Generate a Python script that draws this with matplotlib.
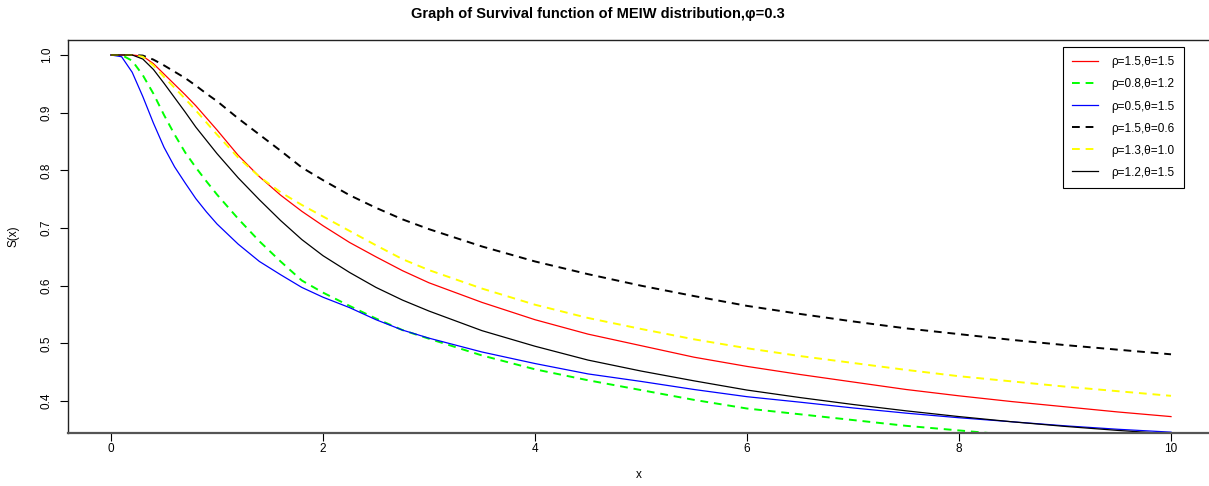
import matplotlib
matplotlib.use("Agg")
import matplotlib.pyplot as plt

plt.rcParams['font.family'] = ['Liberation Sans', 'DejaVu Sans']

x = [0, 0.1, 0.2, 0.3, 0.4, 0.5, 0.6, 0.7, 0.8, 0.9, 1.0, 1.2, 1.4, 1.6, 1.8,
     2.0, 2.25, 2.5, 2.75, 3.0, 3.5, 4.0, 4.5, 5.0, 5.5, 6.0, 6.5, 7.0, 7.5,
     8.0, 8.5, 9.0, 9.5, 10.0]

s_red = [1.0, 1.0, 1.0, 0.998, 0.985, 0.967, 0.949, 0.931, 0.912, 0.891, 0.870,
         0.826, 0.789, 0.757, 0.729, 0.704, 0.675, 0.650, 0.626, 0.605, 0.571,
         0.541, 0.516, 0.496, 0.476, 0.460, 0.446, 0.433, 0.420, 0.409, 0.399,
         0.390, 0.381, 0.373]
s_green = [1.0, 1.0, 0.99, 0.965, 0.933, 0.896, 0.862, 0.831, 0.805, 0.781, 0.758,
           0.716, 0.677, 0.642, 0.609, 0.588, 0.565, 0.543, 0.523, 0.508, 0.479,
           0.455, 0.436, 0.419, 0.402, 0.387, 0.377, 0.367, 0.357, 0.349, 0.341,
           0.334, 0.328, 0.322]
s_blue = [1.0, 0.997, 0.970, 0.928, 0.882, 0.840, 0.806, 0.778, 0.751, 0.728, 0.707,
          0.672, 0.642, 0.619, 0.597, 0.580, 0.562, 0.541, 0.523, 0.509, 0.485,
          0.465, 0.447, 0.434, 0.420, 0.4075, 0.398, 0.388, 0.379, 0.371, 0.364,
          0.357, 0.351, 0.346]
s_bdash = [1.0, 1.0, 1.0, 0.999, 0.992, 0.982, 0.971, 0.960, 0.947, 0.933, 0.920,
           0.890, 0.862, 0.834, 0.805, 0.783, 0.757, 0.735, 0.715, 0.698, 0.668,
           0.642, 0.620, 0.600, 0.582, 0.565, 0.551, 0.538, 0.526, 0.516, 0.506,
           0.497, 0.489, 0.481]
s_yellow = [1.0, 1.0, 1.0, 0.997, 0.982, 0.962, 0.943, 0.924, 0.904, 0.883, 0.862,
            0.822, 0.789, 0.762, 0.740, 0.720, 0.695, 0.670, 0.646, 0.627, 0.595,
            0.567, 0.544, 0.525, 0.507, 0.4915, 0.478, 0.466, 0.454, 0.443, 0.434,
            0.425, 0.417, 0.409]
s_bsolid = [1.0, 1.0, 1.0, 0.993, 0.975, 0.951, 0.926, 0.901, 0.875, 0.852, 0.829,
            0.787, 0.749, 0.713, 0.680, 0.652, 0.623, 0.597, 0.575, 0.556, 0.522,
            0.495, 0.471, 0.452, 0.435, 0.419, 0.406, 0.394, 0.383, 0.373, 0.364,
            0.356, 0.349, 0.343]

labels = ["\u03c1=1.5,\u03b8=1.5", "\u03c1=0.8,\u03b8=1.2", "\u03c1=0.5,\u03b8=1.5",
          "\u03c1=1.5,\u03b8=0.6", "\u03c1=1.3,\u03b8=1.0", "\u03c1=1.2,\u03b8=1.5"]

W, H = 1209, 486
fig = plt.figure(figsize=(W / 100, H / 100), dpi=100)
L, R, T, B = 68, 1209, 40, 433
ax = fig.add_axes([L / W, (H - B) / H, (R - L) / W, (B - T) / H])

dash = (4, 3)
ax.plot(x, s_red, color='#FF0000', lw=0.9, label=labels[0])
ax.plot(x, s_green, color='#00FF00', lw=1.4, dashes=dash, label=labels[1])
ax.plot(x, s_blue, color='#0000FF', lw=0.9, label=labels[2])
ax.plot(x, s_bdash, color='black', lw=1.4, dashes=dash, label=labels[3])
ax.plot(x, s_yellow, color='#FFFF00', lw=1.4, dashes=dash, label=labels[4])
ax.plot(x, s_bsolid, color='black', lw=0.9, label=labels[5])

ax.set_xlim((L - 111) / 106, (R - 111) / 106)
ax.set_ylim(1.0 - (B - 55) / 576.7, 1.0 + (55 - T) / 576.7)
ax.set_xticks([0, 2, 4, 6, 8, 10])
ax.set_yticks([0.4, 0.5, 0.6, 0.7, 0.8, 0.9, 1.0])
ax.set_yticklabels(["0.4", "0.5", "0.6", "0.7", "0.8", "0.9", "1.0"],
                   rotation=90, va='center')
ax.tick_params(axis='both', direction='out', length=6, width=0.8,
               labelsize=8.5, colors='black')
ax.tick_params(axis='x', pad=1)
ax.tick_params(axis='y', pad=5)

for side in ['top', 'left']:
    ax.spines[side].set_linewidth(1.0)
    ax.spines[side].set_color('#222222')
ax.spines['bottom'].set_color('#555555')
ax.spines['bottom'].set_linewidth(1.6)
ax.spines['right'].set_visible(False)

ax.set_xlabel("x", fontsize=8.5, labelpad=10)
ax.set_ylabel("S(x)", fontsize=8.5, labelpad=15)
fig.text(598 / W, 1 - 14 / H, "Graph of Survival function of MEIW distribution,\u03c6=0.3",
         ha='center', va='center', fontsize=10.5, fontweight='bold')

leg = ax.legend(loc='upper left',
                bbox_to_anchor=((1063 - L) / (R - L), (B - 47) / (B - T)),
                fontsize=8.5, frameon=True, fancybox=False, edgecolor='black',
                framealpha=1, handlelength=2.2, handletextpad=1.1,
                labelspacing=0.85, borderpad=0.8, borderaxespad=0)
leg.get_frame().set_linewidth(0.8)

fig.savefig("out.png", dpi=100)
